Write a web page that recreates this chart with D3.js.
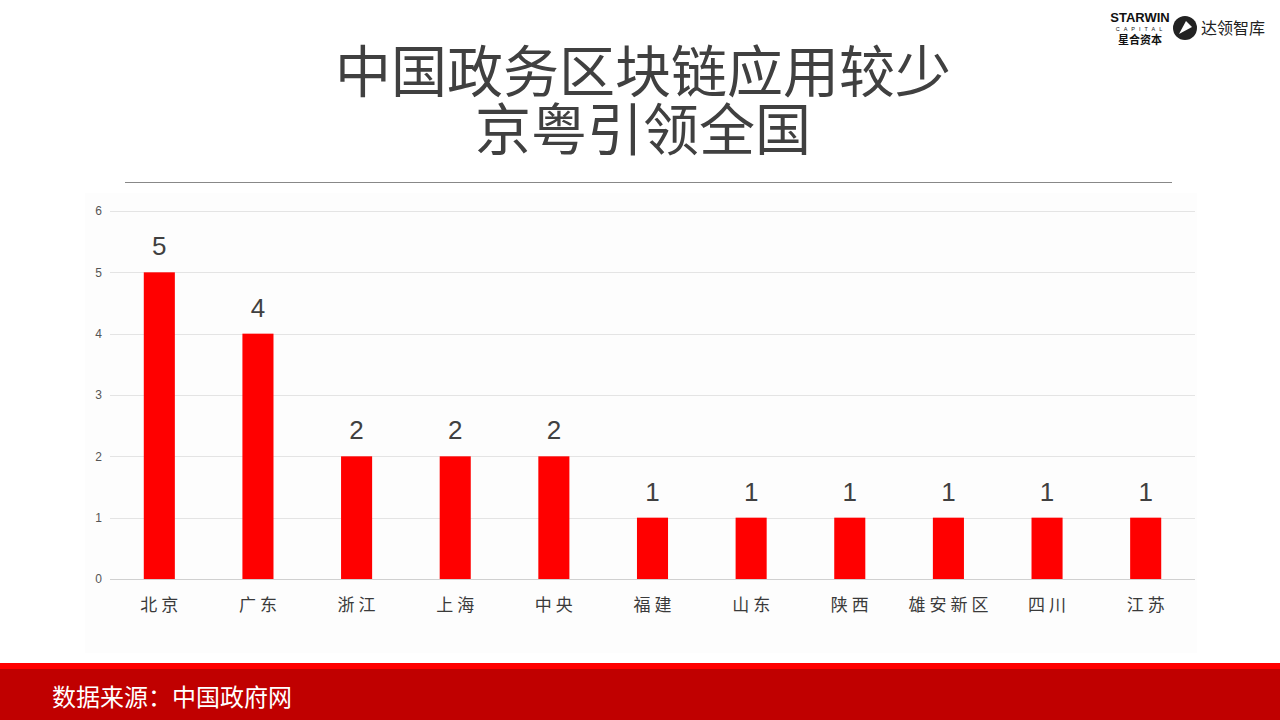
<!DOCTYPE html>
<html><head><meta charset="utf-8">
<script src="https://cdn.jsdelivr.net/npm/d3@7"></script>
<style>
body{margin:0;background:#fff;}
svg{display:block;}
</style></head>
<body>
<svg id="c" width="1280" height="720"></svg>
<script>
const categories = ["北京","广东","浙江","上海","中央","福建","山东","陕西","雄安新区","四川","江苏"];
const values = [5,4,2,2,2,1,1,1,1,1,1];
const yTicks = [0,1,2,3,4,5,6];
const titleLines = ["中国政务区块链应用较少","京粤引领全国"];
const sourceText = "数据来源：中国政府网";

const svg = d3.select("#c");
const font = "'Noto Sans CJK SC','Noto Sans',sans-serif";

// chart background
svg.append("rect").attr("x",85).attr("y",193).attr("width",1112).attr("height",460).attr("fill","#fdfdfd");

// title
svg.append("g").selectAll("text").data(titleLines).join("text")
  .attr("x",643).attr("y",(d,i)=>92+i*58)
  .attr("text-anchor","middle").attr("font-family",font).attr("font-size",56)
  .attr("fill","#404040").text(d=>d);

// separator line
svg.append("line").attr("x1",125).attr("x2",1172).attr("y1",182.5).attr("y2",182.5)
  .attr("stroke","#888").attr("stroke-width",1.2);

const x = d3.scaleBand().domain(categories).range([110,1195]).paddingInner(0.685).paddingOuter(0.3425);
const y = d3.scaleLinear().domain([0,6]).range([579,211]);

// grid
const g = svg.append("g");
g.selectAll("line.grid").data(yTicks).join("line")
  .attr("x1",110).attr("x2",1195).attr("y1",d=>Math.round(y(d))+0.5).attr("y2",d=>Math.round(y(d))+0.5)
  .attr("stroke",d=>d===0?"#d0d0d0":"#e4e4e4").attr("stroke-width",1);

// y axis labels
const yAxis = d3.axisLeft(y).tickValues(yTicks).tickFormat(d3.format("d")).tickSize(0).tickPadding(0);
const ya = svg.append("g").attr("transform","translate(102,0)").call(yAxis);
ya.select(".domain").remove();
ya.selectAll("text").attr("font-family","'Liberation Sans',Arial,sans-serif").attr("font-size",12).attr("fill","#555");

// bars
g.selectAll("rect.bar").data(values).join("rect")
  .attr("x",(d,i)=>x(categories[i])).attr("width",x.bandwidth())
  .attr("y",d=>y(d)).attr("height",d=>y(0)-y(d)).attr("fill","#ff0000");

// value labels
g.selectAll("text.val").data(values).join("text")
  .attr("x",(d,i)=>x(categories[i])+x.bandwidth()/2).attr("y",d=>y(d)-17)
  .attr("text-anchor","middle").attr("font-family","'Liberation Sans',Arial,sans-serif")
  .attr("font-size",26).attr("fill","#404040").text(d=>d);

// x axis labels
const xAxis = d3.axisBottom(x).tickSize(0).tickPadding(0);
const xa = svg.append("g").attr("transform","translate(0,599)").call(xAxis);
xa.select(".domain").remove();
xa.selectAll("text").attr("font-family",font).attr("font-size",17).attr("fill","#3a3a3a")
  .attr("letter-spacing","4px").attr("dx","2px").attr("dy","0.71em");

// footer
svg.append("rect").attr("x",0).attr("y",663).attr("width",1280).attr("height",6).attr("fill","#ff0000");
svg.append("rect").attr("x",0).attr("y",669).attr("width",1280).attr("height",51).attr("fill","#c00000");
svg.append("text").attr("x",52).attr("y",706).attr("font-family",font).attr("font-size",24)
  .attr("fill","#fff").text(sourceText);

// logo
const lg = svg.append("g");
lg.append("text").attr("x",1140).attr("y",22).attr("text-anchor","middle").attr("font-family","'Liberation Sans',Arial,sans-serif")
  .attr("font-weight","bold").attr("font-size",13).attr("fill","#111").text("STARWIN");
lg.append("text").attr("x",1141).attr("y",31).attr("text-anchor","middle").attr("font-family","'Liberation Sans',Arial,sans-serif")
  .attr("font-size",5.5).attr("letter-spacing","4px").attr("fill","#111").text("CAPITAL");
lg.append("text").attr("x",1140).attr("y",44).attr("text-anchor","middle").attr("font-family",font)
  .attr("font-weight","bold").attr("font-size",11).attr("fill","#111").text("星合资本");
lg.append("circle").attr("cx",1185).attr("cy",28).attr("r",12).attr("fill","#222");
lg.append("path").attr("d","M1179,34 L1186,21 L1192,27 Z").attr("fill","#fff");
lg.append("text").attr("x",1201).attr("y",34).attr("font-family",font)
  .attr("font-size",16).attr("fill","#222").text("达领智库");
</script>
</body></html>
